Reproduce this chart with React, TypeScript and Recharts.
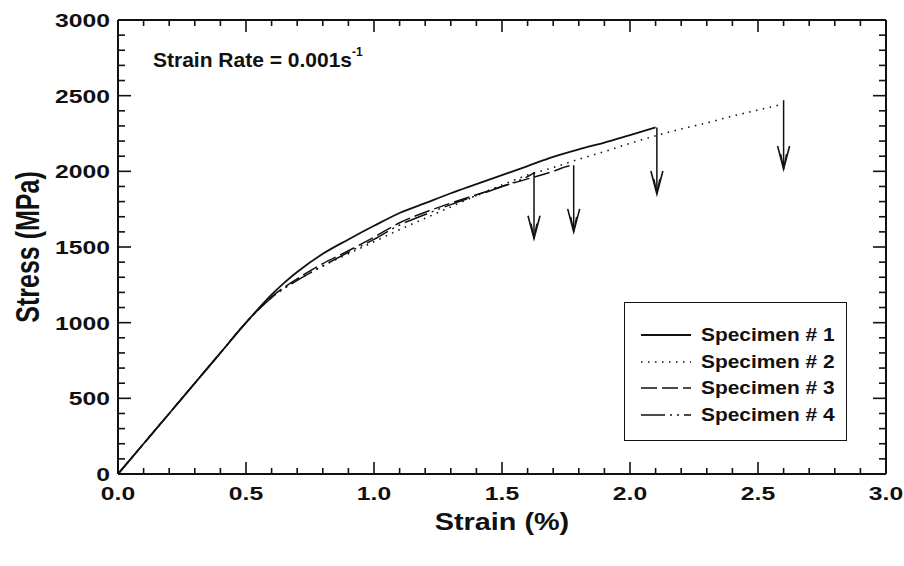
import React from 'react';
import { LineChart, Line, XAxis, YAxis } from 'recharts';

// tick values
const xTicks = [0, 0.1, 0.2, 0.3, 0.4, 0.5, 0.6, 0.7, 0.8, 0.9, 1.0, 1.1, 1.2, 1.3, 1.4, 1.5, 1.6, 1.7, 1.8, 1.9, 2.0, 2.1, 2.2, 2.3, 2.4, 2.5, 2.6, 2.7, 2.8, 2.9, 3.0];
const yTicks = [0, 100, 200, 300, 400, 500, 600, 700, 800, 900, 1000, 1100, 1200, 1300, 1400, 1500, 1600, 1700, 1800, 1900, 2000, 2100, 2200, 2300, 2400, 2500, 2600, 2700, 2800, 2900, 3000];

// Specimen # 1 (solid)
const s1Strain = [0, 0.2, 0.4, 0.5, 0.6, 0.65, 0.7, 0.8, 0.9, 1.0, 1.1, 1.2, 1.3, 1.4, 1.5, 1.6, 1.7, 1.8, 1.9, 2.0, 2.1];
const s1Stress = [0, 400, 800, 1000, 1185, 1265, 1335, 1455, 1550, 1640, 1725, 1790, 1855, 1915, 1975, 2035, 2095, 2145, 2190, 2240, 2290];

// Specimen # 2 (dotted)
const s2Strain = [0, 0.2, 0.4, 0.5, 0.6, 0.7, 0.8, 0.9, 1.0, 1.1, 1.2, 1.3, 1.4, 1.5, 1.6, 1.7, 1.8, 1.9, 2.0, 2.1, 2.2, 2.3, 2.4, 2.5, 2.6];
const s2Stress = [0, 400, 800, 1000, 1170, 1280, 1375, 1455, 1535, 1615, 1690, 1765, 1840, 1910, 1975, 2025, 2080, 2130, 2185, 2235, 2280, 2320, 2365, 2405, 2445];

// Specimen # 3 (dashed)
const s3Strain = [0, 0.2, 0.4, 0.5, 0.6, 0.7, 0.8, 0.9, 1.0, 1.1, 1.2, 1.3, 1.4, 1.5, 1.6, 1.7, 1.76, 1.78];
const s3Stress = [0, 400, 800, 1000, 1170, 1290, 1390, 1475, 1565, 1660, 1730, 1790, 1845, 1900, 1950, 2000, 2035, 2040];

// Specimen # 4 (dash-dot)
const s4Strain = [0, 0.2, 0.4, 0.5, 0.6, 0.7, 0.8, 0.9, 1.0, 1.1, 1.2, 1.3, 1.4, 1.5, 1.6, 1.625];
const s4Stress = [0, 400, 800, 1000, 1165, 1280, 1375, 1465, 1550, 1645, 1715, 1780, 1840, 1900, 1965, 1990];

// failure arrows
const arrowStrain = [1.625, 1.78, 2.105, 2.6];
const arrowTop = [1995, 2040, 2290, 2470];
const arrowTip = [1555, 1600, 1850, 2015];

const zip = (xs: number[], ys: number[]) => xs.map((x, i) => ({ x, y: ys[i] }));

const series = [
  { name: 'Specimen # 1', data: zip(s1Strain, s1Stress), dash: undefined as string | undefined, width: 1.8 },
  { name: 'Specimen # 2', data: zip(s2Strain, s2Stress), dash: '1.5 5.5', width: 1.6 },
  { name: 'Specimen # 3', data: zip(s3Strain, s3Stress), dash: '16 5', width: 1.5 },
  { name: 'Specimen # 4', data: zip(s4Strain, s4Stress), dash: '24 5 2 5 2 5', width: 1.5 },
];

const FONT = '"Liberation Sans", Arial, Helvetica, sans-serif';
const INK = '#111';

const isMajorX = (v: number) => Math.round(v * 10) % 5 === 0;
const isMajorY = (v: number) => Math.round(v) % 500 === 0;

function BottomTick({ x, y, payload }: any) {
  const v = payload.value;
  const major = isMajorX(v);
  const edge = v === 0 || v === 3;
  return (
    <g>
      {!edge && <line x1={x} x2={x} y1={y} y2={y - (major ? 12 : 6)} stroke={INK} strokeWidth={1.6} />}
      {major && (
        <text transform={`translate(${x},${y + 26}) scale(1.3,1)`} textAnchor="middle" fontFamily={FONT} fontWeight="bold" fontSize={19} fill={INK}>
          {v.toFixed(1)}
        </text>
      )}
    </g>
  );
}

function TopTick({ x, y, payload }: any) {
  const v = payload.value;
  if (v === 0 || v === 3) return <g />;
  return <line x1={x} x2={x} y1={y} y2={y + (isMajorX(v) ? 12 : 6)} stroke={INK} strokeWidth={1.6} />;
}

function LeftTick({ x, y, payload }: any) {
  const v = payload.value;
  const major = isMajorY(v);
  const edge = v === 0 || v === 3000;
  return (
    <g>
      {!edge && <line x1={x} x2={x + (major ? 13 : 7)} y1={y} y2={y} stroke={INK} strokeWidth={1.6} />}
      {major && (
        <text transform={`translate(${x - 8},${y + 7}) scale(1.3,1)`} textAnchor="end" fontFamily={FONT} fontWeight="bold" fontSize={19} fill={INK}>
          {v}
        </text>
      )}
    </g>
  );
}

function RightTick({ x, y, payload }: any) {
  const v = payload.value;
  if (v === 0 || v === 3000) return <g />;
  return <line x1={x} x2={x - (isMajorY(v) ? 13 : 7)} y1={y} y2={y} stroke={INK} strokeWidth={1.6} />;
}

function ArrowHead(props: any) {
  const { cx, cy, index } = props;
  if (index !== 1) return <g key={`a${index}`} />;
  return (
    <path
      key={`a${index}`}
      d={`M${cx - 6},${cy - 23} L${cx},${cy} L${cx + 6},${cy - 23} M${cx - 3},${cy - 15} L${cx},${cy} L${cx + 3},${cy - 15}`}
      fill="none"
      stroke={INK}
      strokeWidth={1.6}
    />
  );
}

function XTitle({ viewBox }: any) {
  const cx = viewBox.x + viewBox.width / 2;
  const y = viewBox.y + viewBox.height + 16;
  return (
    <text transform={`translate(${cx},${y}) scale(1.2,1)`} textAnchor="middle" fontFamily={FONT} fontWeight="bold" fontSize={24} fill={INK}>
      Strain (%)
    </text>
  );
}

function YTitle() {
  return (
    <text transform="translate(39,247) scale(1.3,1) rotate(-90)" textAnchor="middle" fontFamily={FONT} fontWeight="bold" fontSize={25} fill={INK}>
      Stress (MPa)
    </text>
  );
}

function LegendBox() {
  return (
    <div
      style={{
        position: 'absolute',
        left: 624,
        top: 302,
        width: 221,
        height: 137,
        border: `1.5px solid ${INK}`,
        background: '#fff',
        fontFamily: FONT,
        fontWeight: 'bold',
        fontSize: 19,
        color: INK,
      }}
    >
      {series.map((s, i) => (
        <div key={s.name} style={{ position: 'absolute', left: 0, top: 19 + i * 26.5, height: 26, display: 'flex', alignItems: 'center' }}>
          <svg width={76} height={26} style={{ display: 'block' }}>
            <line x1={16} x2={66} y1={13} y2={13} stroke={INK} strokeWidth={s.width} strokeDasharray={s.dash} />
          </svg>
          <span style={{ whiteSpace: 'nowrap', display: 'inline-block', transform: 'scaleX(1.1)', transformOrigin: 'left center' }}>{s.name}</span>
        </div>
      ))}
    </div>
  );
}

export default function App(): React.ReactElement {
  return (
    <div style={{ position: 'relative', width: 904, height: 566, background: '#fff' }}>
      <style>{'html,body{margin:0;padding:0;overflow:hidden;}'}</style>
      <LineChart width={904} height={566} margin={{ top: 19, right: 17, bottom: 52, left: 18 }} style={{ overflow: 'visible' }}>
        <XAxis
          xAxisId="b"
          dataKey="x"
          type="number"
          domain={[0, 3]}
          ticks={xTicks}
          interval={0}
          height={40}
          tickSize={0}
          tickMargin={0}
          tickLine={false}
          tick={<BottomTick />}
          axisLine={{ stroke: INK, strokeWidth: 2 }}
          allowDataOverflow
          label={{ content: XTitle }}
        />
        <XAxis
          xAxisId="t"
          orientation="top"
          dataKey="x"
          type="number"
          domain={[0, 3]}
          ticks={xTicks}
          interval={0}
          height={1}
          tickSize={0}
          tickMargin={0}
          tickLine={false}
          tick={<TopTick />}
          axisLine={{ stroke: INK, strokeWidth: 2 }}
          allowDataOverflow
        />
        <YAxis
          yAxisId="l"
          type="number"
          domain={[0, 3000]}
          ticks={yTicks}
          interval={0}
          width={100}
          tickSize={0}
          tickMargin={0}
          tickLine={false}
          tick={<LeftTick />}
          axisLine={{ stroke: INK, strokeWidth: 2 }}
          allowDataOverflow
          label={{ content: YTitle }}
        />
        <YAxis
          yAxisId="r"
          orientation="right"
          type="number"
          domain={[0, 3000]}
          ticks={yTicks}
          interval={0}
          width={1}
          tickSize={0}
          tickMargin={0}
          tickLine={false}
          tick={<RightTick />}
          axisLine={{ stroke: INK, strokeWidth: 2 }}
          allowDataOverflow
        />
        {series.map((s) => (
          <Line
            key={s.name}
            xAxisId="b"
            yAxisId="l"
            data={s.data}
            dataKey="y"
            type="monotone"
            stroke={INK}
            strokeWidth={s.width}
            strokeDasharray={s.dash}
            dot={false}
            activeDot={false}
            isAnimationActive={false}
          />
        ))}
        {arrowStrain.map((x, i) => (
          <Line
            key={`arrow${i}`}
            xAxisId="b"
            yAxisId="l"
            data={[{ x, y: arrowTop[i] }, { x, y: arrowTip[i] }]}
            dataKey="y"
            type="linear"
            stroke={INK}
            strokeWidth={1.5}
            dot={ArrowHead}
            activeDot={false}
            isAnimationActive={false}
          />
        ))}
      </LineChart>
      <div
        style={{
          position: 'absolute',
          left: 153,
          top: 49,
          fontFamily: FONT,
          fontWeight: 'bold',
          fontSize: 21,
          lineHeight: 1,
          color: INK,
          whiteSpace: 'nowrap',
        }}
      >
        Strain Rate = 0.001s<sup style={{ fontSize: 12, verticalAlign: 'top', position: 'relative', top: -3 }}>-1</sup>
      </div>
      <LegendBox />
    </div>
  );
}
